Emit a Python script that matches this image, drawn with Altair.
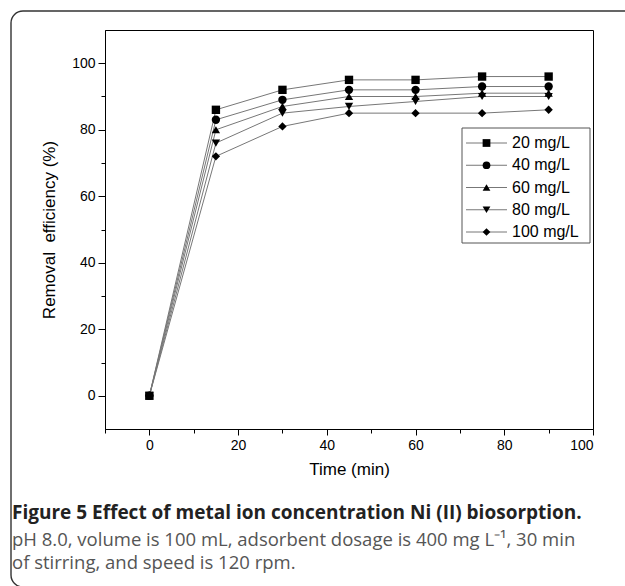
import altair as alt
import pandas as pd

time_min = [0, 15, 30, 45, 60, 75, 90]
series = ["20 mg/L", "40 mg/L", "60 mg/L", "80 mg/L", "100 mg/L"]
eff_20 = [0, 86, 92, 95, 95, 96, 96]
eff_40 = [0, 83, 89, 92, 92, 93, 93]
eff_60 = [0, 80, 87, 90, 90, 91, 91]
eff_80 = [0, 76, 85, 87, 88.5, 90, 90]
eff_100 = [0, 72, 81, 85, 85, 85, 86]

x_major = [0, 20, 40, 60, 80, 100]
x_minor = [-10, 10, 30, 50, 70, 90]
y_major = [0, 20, 40, 60, 80, 100]
y_minor = [10, 30, 50, 70, 90]

caption_title = "Figure 5 Effect of metal ion concentration Ni (II) biosorption."
caption_lines = [
    "pH 8.0, volume is 100 mL, adsorbent dosage is 400 mg L\u207b\u00b9, 30 min",
    "of stirring, and speed is 120 rpm.",
]

rows = []
for name, vals in zip(series, [eff_20, eff_40, eff_60, eff_80, eff_100]):
    for t, v in zip(time_min, vals):
        rows.append({"time": t, "eff": v, "series": name})
df = pd.DataFrame(rows)
leg_df = pd.DataFrame({"series": series})

FONT = "Liberation Sans"
plot_shapes = ["square", "circle", "triangle-up", "triangle-down", "diamond"]
shape_scale = alt.Scale(domain=series, range=plot_shapes)

xscale = alt.Scale(domain=[-10, 100], nice=False, zero=False)
yscale = alt.Scale(domain=[-10, 110], nice=False, zero=False)

common_axis = dict(
    grid=False, domainColor="black", tickColor="black", labelColor="black",
    titleColor="black", labelFont=FONT, titleFont=FONT, labelFontSize=14,
    titleFontSize=17, titleFontWeight="normal",
)

base = alt.Chart(df)

lines = base.mark_line(color="#777777", strokeWidth=1).encode(
    x=alt.X("time:Q", scale=xscale,
            axis=alt.Axis(values=x_major, tickSize=6, title="Time (min)", orient="bottom",
                          titlePadding=9, labelPadding=3, **common_axis)),
    y=alt.Y("eff:Q", scale=yscale,
            axis=alt.Axis(values=y_major, tickSize=7, title="Removal\u00a0 efficiency (%)",
                          orient="left", titlePadding=13, labelPadding=3, **common_axis)),
    detail="series:N",
)

minor = base.mark_point(opacity=0).encode(
    x=alt.X("time:Q", scale=xscale,
            axis=alt.Axis(values=x_minor, tickSize=4, labels=False, domain=False, orient="bottom",
                          title="", grid=False, tickColor="black")),
    y=alt.Y("eff:Q", scale=yscale,
            axis=alt.Axis(values=y_minor, tickSize=4, labels=False, domain=False, orient="left",
                          title="", grid=False, tickColor="black")),
)

points = base.mark_point(filled=True, color="black", size=70, opacity=1).encode(
    x=alt.X("time:Q", scale=xscale, axis=None),
    y=alt.Y("eff:Q", scale=yscale, axis=None),
    shape=alt.Shape("series:N", sort=series, scale=shape_scale, legend=None),
)

main = alt.layer(lines, minor, points).resolve_axis(x="independent", y="independent")

# legend drawn from the series list
leg_y = alt.Y("series:N", sort=series,
              scale=alt.Scale(type="point", domain=series, range=[113, 202], padding=0),
              axis=None)
lbase = alt.Chart(leg_df)
leg_box = alt.Chart(pd.DataFrame({"k": [0]})).mark_rect(
    fill="white", stroke="#555555", strokeWidth=1
).encode(x=alt.value(357), x2=alt.value(485), y=alt.value(98), y2=alt.value(213))
leg_rule = lbase.mark_rule(color="#777777", strokeWidth=1).encode(
    x=alt.value(361), x2=alt.value(402), y=leg_y)
leg_pts = lbase.mark_point(filled=True, color="black", size=60, opacity=1).encode(
    x=alt.value(381.5), y=leg_y,
    shape=alt.Shape("series:N", sort=series, scale=shape_scale, legend=None))
leg_txt = lbase.mark_text(align="left", baseline="middle", font=FONT, fontSize=16,
                          color="black").encode(
    x=alt.value(407), y=leg_y, text="series:N")
legend = alt.layer(leg_box, leg_rule, leg_pts, leg_txt)

frame = alt.Chart(pd.DataFrame({"k": [0]})).mark_rect(
    filled=False, stroke="#333333", strokeWidth=1.4, cornerRadius=12
).encode(
    x=alt.value(-94), x2=alt.value(560), y=alt.value(-19), y2=alt.value(557)
)

cap_df = pd.DataFrame({"k": [0]})
cap_title = alt.Chart(cap_df).mark_text(
    align="left", baseline="alphabetic", font="Open Sans", fontSize=19,
    fontWeight="bold", color="#222222"
).encode(x=alt.value(-93), y=alt.value(489), text=alt.value(caption_title))

cap_body = alt.Chart(cap_df).mark_text(
    align="left", baseline="alphabetic", font="Open Sans", fontSize=18.5,
    color="#555555", lineHeight=23
).encode(x=alt.value(-93), y=alt.value(516), text=alt.value(caption_lines))

chart = alt.layer(frame, main, legend, cap_title, cap_body).resolve_scale(
    y="independent"
).properties(
    width=488, height=399,
    autosize=alt.AutoSizeParams(type="none"),
    padding={"left": 105, "top": 30, "right": 32, "bottom": 157},
).configure_view(stroke="black", strokeWidth=1)

chart.save("out.html", embed_options={"renderer": "svg", "actions": False})
